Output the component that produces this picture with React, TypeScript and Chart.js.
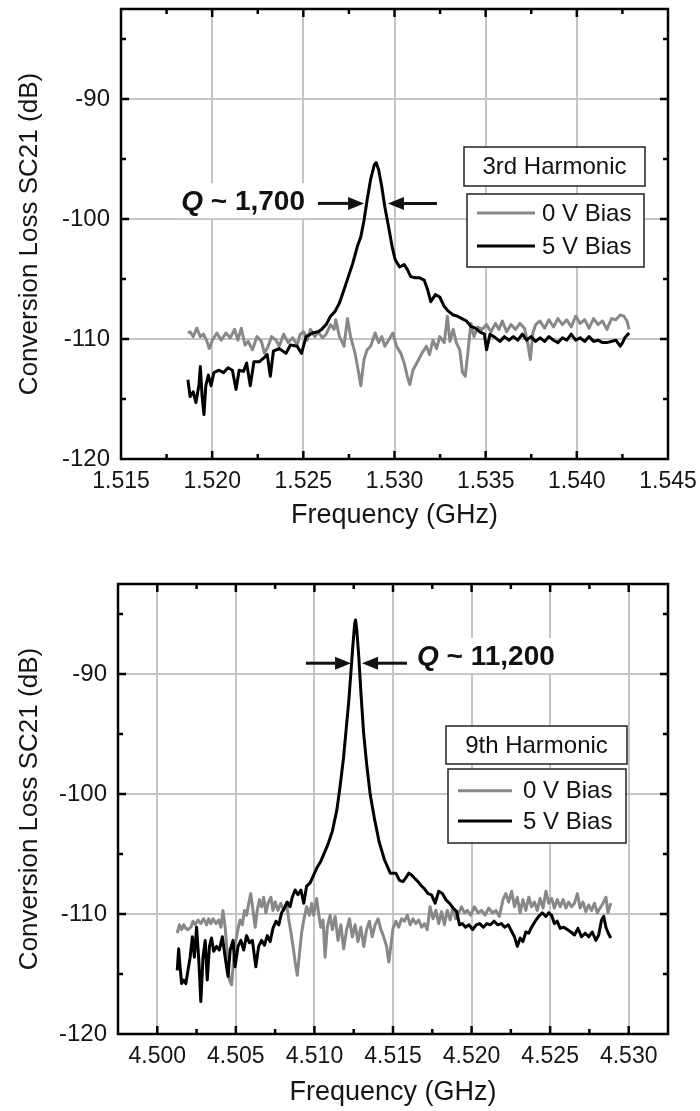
import React, { useEffect, useRef } from "react";
import { Chart, registerables } from "chart.js";

Chart.register(...registerables);

const FONT = "'Liberation Sans', Arial, Helvetica, sans-serif";
Chart.defaults.font.family = FONT;

// ---------------- Top panel: 3rd harmonic ----------------
const topFreq5V = [1.51867,1.51879,1.51896,1.51911,1.51928,1.51935,1.51945,1.51955,1.51965,1.51979,
1.51994,1.52009,1.52038,1.52062,1.52087,1.52111,1.52131,1.52148,1.52172,1.52189,
1.52209,1.52229,1.52258,1.52282,1.52302,1.52319,1.52336,1.52368,1.52405,1.52429,
1.52466,1.52490,1.52515,1.52551,1.52581,1.52600,1.52625,1.52649,1.52674,1.52698,
1.52723,1.52747,1.52771,1.52796,1.52815,1.52833,1.52850,1.52869,1.52889,1.52899,
1.52913,1.52930,1.52947,1.52967,1.52987,1.53004,1.53028,1.53053,1.53070,1.53089,
1.53114,1.53138,1.53163,1.53182,1.53199,1.53224,1.53248,1.53273,1.53297,1.53322,
1.53346,1.53370,1.53395,1.53419,1.53444,1.53468,1.53493,1.53505,1.53524,1.53554,
1.53578,1.53603,1.53627,1.53652,1.53676,1.53701,1.53725,1.53749,1.53774,1.53798,
1.53823,1.53847,1.53872,1.53896,1.53921,1.53945,1.53969,1.53994,1.54018,1.54043,
1.54067,1.54092,1.54116,1.54141,1.54165,1.54190,1.54214,1.54238,1.54251,1.54263,
1.54287];
const topLoss5V = [-113.4,-114.8,-114.4,-115.3,-113.8,-112.3,-114.8,-116.3,-113.9,-113.0,
-113.9,-112.8,-112.6,-112.8,-112.4,-112.6,-114.2,-112.6,-112.7,-112.0,
-113.9,-111.9,-111.9,-111.6,-111.3,-113.1,-111.0,-110.8,-111.2,-110.5,
-110.6,-111.2,-109.8,-109.5,-109.4,-109.2,-108.8,-108.1,-107.7,-107.0,
-105.9,-104.8,-103.7,-102.3,-101.5,-100.1,-98.4,-96.7,-95.5,-95.3,
-95.9,-97.3,-99.0,-100.6,-102.3,-103.4,-104.0,-103.8,-104.2,-104.8,
-104.9,-104.9,-105.1,-105.9,-106.9,-106.3,-106.5,-107.3,-107.7,-108.0,
-108.1,-108.3,-108.5,-108.95,-109.1,-109.4,-109.6,-110.9,-109.6,-109.9,
-110.2,-109.8,-110.1,-109.8,-110.1,-109.6,-110.1,-109.8,-110.2,-109.9,
-110.2,-109.8,-110.1,-110.3,-109.9,-110.1,-109.6,-110.1,-109.9,-110.2,
-109.8,-110.2,-110.1,-110.3,-110.3,-110.2,-110.1,-110.6,-110.3,-109.9,
-109.5];
const topFreq0V = [1.51867,1.51879,1.51896,1.51916,1.51935,1.51952,1.51969,1.51984,1.52001,1.52026,
1.52050,1.52075,1.52099,1.52123,1.52141,1.52160,1.52180,1.52197,1.52221,1.52246,
1.52270,1.52287,1.52307,1.52326,1.52351,1.52368,1.52392,1.52417,1.52441,1.52466,
1.52483,1.52502,1.52522,1.52539,1.52564,1.52581,1.52605,1.52625,1.52649,1.52669,
1.52678,1.52698,1.52723,1.52742,1.52759,1.52784,1.52803,1.52815,1.52833,1.52850,
1.52869,1.52894,1.52913,1.52930,1.52947,1.52967,1.52991,1.53011,1.53035,1.53053,
1.53070,1.53084,1.53101,1.53126,1.53150,1.53175,1.53192,1.53211,1.53231,1.53248,
1.53273,1.53290,1.53304,1.53322,1.53339,1.53358,1.53373,1.53388,1.53402,1.53419,
1.53436,1.53456,1.53480,1.53505,1.53529,1.53554,1.53573,1.53591,1.53615,1.53639,
1.53664,1.53688,1.53713,1.53730,1.53745,1.53759,1.53774,1.53798,1.53823,1.53847,
1.53872,1.53896,1.53921,1.53945,1.53969,1.53994,1.54018,1.54043,1.54067,1.54092,
1.54116,1.54141,1.54165,1.54190,1.54214,1.54238,1.54258,1.54275,1.54287];
const topLoss0V = [-109.5,-109.4,-109.8,-109.1,-109.8,-109.6,-110.1,-110.8,-110.1,-109.5,
-110.1,-109.5,-109.9,-109.2,-110.1,-109.1,-110.5,-110.2,-110.9,-109.8,
-110.2,-111.2,-110.6,-109.8,-110.1,-110.6,-109.6,-110.3,-109.9,-110.5,
-109.6,-109.4,-110.1,-109.2,-109.8,-109.4,-109.9,-109.6,-108.8,-109.2,
-108.4,-109.8,-110.6,-108.3,-109.8,-111.2,-112.8,-113.9,-111.7,-110.9,
-110.6,-109.5,-110.3,-109.8,-110.6,-110.1,-109.5,-110.6,-111.2,-112.0,
-113.1,-113.8,-112.6,-111.9,-111.2,-110.6,-111.3,-110.1,-110.8,-109.8,
-110.3,-108.1,-110.2,-109.2,-110.3,-110.9,-112.8,-113.1,-111.2,-108.7,
-109.8,-109.0,-109.2,-108.8,-109.4,-108.7,-109.2,-108.5,-109.4,-108.8,
-109.2,-108.7,-109.1,-110.3,-111.7,-109.5,-108.8,-108.5,-109.1,-108.4,
-109.0,-108.3,-108.8,-108.4,-109.0,-108.1,-108.7,-108.4,-109.1,-108.3,
-108.8,-108.5,-109.2,-108.3,-108.4,-108.0,-108.1,-108.5,-109.2];

// ---------------- Bottom panel: 9th harmonic ----------------
const botFreq5V = [4.50127,4.50136,4.50145,4.50155,4.50168,4.50182,4.50195,4.50209,4.50223,4.50236,
4.50250,4.50264,4.50277,4.50291,4.50305,4.50318,4.50332,4.50345,4.50359,4.50377,
4.50395,4.50414,4.50432,4.50450,4.50464,4.50482,4.50495,4.50514,4.50532,4.50550,
4.50568,4.50586,4.50605,4.50627,4.50645,4.50664,4.50682,4.50700,4.50718,4.50736,
4.50755,4.50773,4.50791,4.50809,4.50827,4.50845,4.50859,4.50877,4.50895,4.50914,
4.50932,4.50950,4.50973,4.50995,4.51018,4.51041,4.51086,4.51114,4.51143,4.51163,
4.51185,4.51202,4.51219,4.51233,4.51245,4.51256,4.51262,4.51270,4.51282,4.51296,
4.51313,4.51333,4.51355,4.51384,4.51412,4.51446,4.51483,4.51518,4.51541,4.51564,
4.51586,4.51600,4.51618,4.51636,4.51659,4.51677,4.51700,4.51723,4.51745,4.51768,
4.51791,4.51814,4.51836,4.51859,4.51882,4.51905,4.51923,4.51941,4.51961,4.51984,
4.52007,4.52030,4.52052,4.52075,4.52098,4.52120,4.52143,4.52166,4.52189,4.52211,
4.52234,4.52257,4.52273,4.52291,4.52309,4.52327,4.52345,4.52364,4.52382,4.52405,
4.52427,4.52450,4.52473,4.52491,4.52509,4.52527,4.52545,4.52564,4.52586,4.52609,
4.52632,4.52655,4.52677,4.52700,4.52723,4.52745,4.52768,4.52791,4.52809,4.52827,
4.52841,4.52855,4.52870,4.52886];
const botLoss5V = [-114.7,-112.9,-114.4,-115.8,-115.5,-115.8,-114.7,-113.6,-111.9,-113.6,
-111.1,-113.8,-117.3,-113.6,-112.2,-115.5,-112.7,-112.0,-113.1,-112.7,
-113.0,-111.9,-113.6,-115.2,-113.0,-112.2,-114.4,-112.7,-112.2,-113.0,
-111.8,-112.4,-112.2,-114.4,-112.7,-112.2,-112.6,-111.8,-112.3,-111.2,
-110.6,-110.9,-109.9,-109.5,-109.0,-109.4,-108.6,-108.0,-108.4,-108.0,
-109.1,-107.7,-107.4,-106.75,-106.1,-105.6,-104.2,-103.1,-101.3,-99.4,
-97.0,-94.6,-92.2,-89.7,-87.6,-85.8,-85.5,-86.4,-88.5,-91.6,
-94.9,-97.6,-100.05,-102.2,-104.0,-105.5,-106.6,-106.6,-107.2,-107.3,
-106.9,-106.6,-106.75,-107.0,-107.3,-107.6,-107.9,-108.3,-108.4,-109.1,
-108.1,-108.3,-108.8,-109.1,-109.5,-109.8,-110.9,-110.8,-111.1,-110.9,
-111.3,-110.9,-110.8,-111.1,-110.8,-110.9,-110.6,-110.9,-110.8,-111.1,
-110.9,-111.5,-111.9,-112.7,-112.0,-112.3,-111.5,-111.6,-111.1,-110.6,
-110.2,-109.9,-110.2,-109.9,-110.1,-110.8,-110.6,-111.2,-111.1,-111.3,
-111.5,-111.75,-111.2,-111.9,-111.6,-111.9,-111.5,-112.2,-111.75,-110.5,
-110.2,-111.1,-111.6,-112.0];
const botFreq0V = [4.50127,4.50141,4.50155,4.50168,4.50182,4.50195,4.50214,4.50227,4.50241,4.50259,
4.50277,4.50295,4.50314,4.50327,4.50341,4.50355,4.50373,4.50391,4.50405,4.50418,
4.50432,4.50445,4.50459,4.50473,4.50486,4.50500,4.50514,4.50527,4.50541,4.50555,
4.50568,4.50582,4.50595,4.50609,4.50623,4.50636,4.50650,4.50664,4.50677,4.50691,
4.50705,4.50723,4.50736,4.50750,4.50768,4.50786,4.50805,4.50823,4.50836,4.50850,
4.50864,4.50877,4.50891,4.50905,4.50918,4.50932,4.50950,4.50968,4.50982,4.50995,
4.51014,4.51027,4.51041,4.51055,4.51068,4.51082,4.51100,4.51114,4.51132,4.51150,
4.51168,4.51186,4.51205,4.51223,4.51241,4.51259,4.51277,4.51295,4.51314,4.51332,
4.51350,4.51368,4.51386,4.51405,4.51423,4.51441,4.51459,4.51473,4.51486,4.51500,
4.51518,4.51536,4.51555,4.51573,4.51591,4.51609,4.51627,4.51645,4.51664,4.51682,
4.51700,4.51718,4.51736,4.51755,4.51773,4.51791,4.51809,4.51827,4.51845,4.51864,
4.51882,4.51900,4.51918,4.51936,4.51955,4.51973,4.51995,4.52018,4.52041,4.52064,
4.52086,4.52109,4.52132,4.52155,4.52177,4.52200,4.52218,4.52236,4.52255,4.52273,
4.52291,4.52309,4.52327,4.52345,4.52364,4.52382,4.52400,4.52418,4.52436,4.52455,
4.52473,4.52491,4.52509,4.52527,4.52545,4.52564,4.52582,4.52600,4.52618,4.52636,
4.52655,4.52673,4.52691,4.52709,4.52727,4.52745,4.52764,4.52782,4.52800,4.52818,
4.52836,4.52855,4.52868,4.52886];
const botLoss0V = [-111.6,-110.9,-111.3,-110.9,-111.2,-111.3,-111.1,-110.6,-110.9,-110.5,
-110.8,-110.4,-110.9,-110.4,-110.8,-110.4,-110.8,-110.5,-111.1,-109.7,
-111.1,-113.3,-115.5,-115.9,-113.8,-112.2,-111.2,-110.5,-110.9,-109.7,
-110.1,-109.1,-108.3,-109.7,-111.1,-109.7,-108.8,-109.4,-108.6,-109.9,
-109.1,-108.6,-109.7,-109.0,-109.7,-109.1,-109.7,-109.1,-110.4,-111.5,
-112.7,-114.0,-115.1,-113.3,-111.6,-110.5,-109.4,-110.1,-109.1,-110.1,
-108.7,-110.0,-111.1,-110.5,-113.6,-111.1,-110.1,-111.3,-110.2,-112.2,
-110.9,-112.9,-111.3,-110.4,-111.9,-110.9,-112.3,-111.1,-112.7,-111.3,
-110.6,-111.9,-110.9,-110.4,-111.3,-111.9,-112.7,-114.0,-112.7,-111.2,
-110.6,-111.1,-110.4,-110.6,-110.1,-110.9,-110.4,-110.8,-110.5,-111.1,
-110.8,-111.3,-109.4,-110.4,-109.7,-110.8,-109.8,-110.9,-109.7,-110.5,
-109.5,-110.4,-109.9,-109.4,-109.9,-109.7,-110.1,-109.4,-109.9,-109.7,
-110.1,-109.5,-109.9,-109.7,-110.2,-108.8,-108.3,-109.0,-108.1,-109.4,
-108.6,-109.9,-108.8,-109.7,-108.6,-109.4,-109.0,-109.7,-108.7,-109.5,
-108.1,-109.1,-108.7,-109.5,-108.8,-109.4,-108.8,-109.5,-109.0,-109.4,
-109.1,-108.3,-109.5,-109.0,-109.8,-109.25,-109.7,-109.1,-109.9,-109.5,
-109.1,-108.6,-109.9,-109.1];

// ---------------- Axes ----------------
const topXRange = [1.515, 1.545];
const topXMajor = [1.515, 1.52, 1.525, 1.53, 1.535, 1.54, 1.545];
const topXMinor = [1.5175, 1.5225, 1.5275, 1.5325, 1.5375, 1.5425];
const botXRange = [4.4975, 4.5325];
const botXMajor = [4.5, 4.505, 4.51, 4.515, 4.52, 4.525, 4.53];
const botXMinor = [4.4975, 4.5025, 4.5075, 4.5125, 4.5175, 4.5225, 4.5275, 4.5325];
const yRange = [-120, -82.5];
const yMajor = [-120, -110, -100, -90];
const yMinor = [-115, -105, -95, -85];

const seriesNames = ["0 V Bias", "5 V Bias"];
const xTitle = "Frequency (GHz)";
const yTitle = "Conversion Loss SC21 (dB)";

// Q annotations (data coordinates)
const topQ = { value: "1,700", textX: 1.52509, textY: -98.6, align: "right", arrowY: -98.7, tails: [1.5258, 1.53233], tips: [1.52833, 1.52964] };
const botQ = { value: "11,200", textX: 4.51653, textY: -88.6, align: "left", arrowY: -89.1, tails: [4.50946, 4.51589], tips: [4.51233, 4.51303] };

const COLOR_0V = "#888888";
const COLOR_5V = "#000000";

const panels = [
  {
    key: "top", height: 540,
    padding: { top: 9, right: 32, bottom: 0, left: 0 },
    yAxisWidth: 121, xAxisHeight: 81, xTitlePadBottom: 8,
    xRange: topXRange, xMajor: topXMajor, xMinor: topXMinor,
    f5: topFreq5V, l5: topLoss5V, f0: topFreq0V, l0: topLoss0V,
    legendTitle: "3rd Harmonic",
    legend: { titleBox: [464, 147, 645, 186], box: [467, 194, 644, 267], rows: [213, 246], line: [477, 535], textX: 542 },
    q: topQ,
  },
  {
    key: "bot", height: 571,
    padding: { top: 44, right: 32, bottom: 0, left: 0 },
    yAxisWidth: 118, xAxisHeight: 77, xTitlePadBottom: 2,
    xRange: botXRange, xMajor: botXMajor, xMinor: botXMinor,
    f5: botFreq5V, l5: botLoss5V, f0: botFreq0V, l0: botLoss0V,
    legendTitle: "9th Harmonic",
    legend: { titleBox: [446, 186, 627, 224], box: [448, 229, 626, 303], rows: [250.7, 281], line: [458, 512], textX: 523 },
    q: botQ,
  },
];

const zip = (xs: number[], ys: number[]) => xs.map((x, i) => ({ x, y: ys[i] }));
const isIn = (v: number, list: number[]) => list.some((m) => Math.abs(m - v) < 1e-7);

function drawArrow(ctx: CanvasRenderingContext2D, fromX: number, toX: number, y: number) {
  const dir = Math.sign(toX - fromX);
  const hl = 16, hw = 6.5;
  ctx.beginPath();
  ctx.moveTo(fromX, y);
  ctx.lineTo(toX - dir * hl, y);
  ctx.stroke();
  ctx.beginPath();
  ctx.moveTo(toX, y);
  ctx.lineTo(toX - dir * hl, y - hw);
  ctx.lineTo(toX - dir * hl, y + hw);
  ctx.closePath();
  ctx.fill();
}

function qLayout(ctx: CanvasRenderingContext2D, chart: any, q: any) {
  const xs = chart.scales.x, ys = chart.scales.y;
  ctx.font = `italic bold 28px ${FONT}`;
  const wQ = ctx.measureText("Q").width;
  ctx.font = `bold 28px ${FONT}`;
  const rest = " ~ " + q.value;
  const wR = ctx.measureText(rest).width;
  const total = wQ + wR;
  const ax = xs.getPixelForValue(q.textX);
  const x0 = q.align === "right" ? ax - total : ax;
  const y = ys.getPixelForValue(q.textY);
  return { x0, y, wQ, rest, total };
}

function decorPlugin(p: any) {
  return {
    id: "decor",
    beforeDatasetsDraw(chart: any) {
      const ctx = chart.ctx as CanvasRenderingContext2D;
      ctx.save();
      const L = qLayout(ctx, chart, p.q);
      ctx.fillStyle = "#ffffff";
      ctx.fillRect(L.x0 - 5, L.y - 19, L.total + 10, 35);
      ctx.restore();
    },
    afterDatasetsDraw(chart: any) {
      const ctx = chart.ctx as CanvasRenderingContext2D;
      const xs = chart.scales.x, ys = chart.scales.y;
      ctx.save();
      const q = p.q;
      const L = qLayout(ctx, chart, q);
      ctx.fillStyle = "#111";
      ctx.textBaseline = "middle";
      ctx.textAlign = "left";
      ctx.font = `italic bold 28px ${FONT}`;
      ctx.fillText("Q", L.x0, L.y);
      ctx.font = `bold 28px ${FONT}`;
      ctx.fillText(L.rest, L.x0 + L.wQ, L.y);
      ctx.strokeStyle = "#111";
      ctx.lineWidth = 3;
      const ay = ys.getPixelForValue(q.arrowY);
      drawArrow(ctx, xs.getPixelForValue(q.tails[0]), xs.getPixelForValue(q.tips[0]), ay);
      drawArrow(ctx, xs.getPixelForValue(q.tails[1]), xs.getPixelForValue(q.tips[1]), ay);

      const lg = p.legend;
      ctx.lineWidth = 1.5;
      ctx.strokeStyle = "#222";
      const tb = lg.titleBox;
      ctx.fillStyle = "#fff";
      ctx.fillRect(tb[0], tb[1], tb[2] - tb[0], tb[3] - tb[1]);
      ctx.strokeRect(tb[0], tb[1], tb[2] - tb[0], tb[3] - tb[1]);
      const bb = lg.box;
      ctx.fillRect(bb[0], bb[1], bb[2] - bb[0], bb[3] - bb[1]);
      ctx.strokeRect(bb[0], bb[1], bb[2] - bb[0], bb[3] - bb[1]);
      ctx.fillStyle = "#111";
      ctx.font = `24px ${FONT}`;
      ctx.textAlign = "center";
      ctx.fillText(p.legendTitle, (tb[0] + tb[2]) / 2, (tb[1] + tb[3]) / 2 + 1);
      ctx.textAlign = "left";
      const colors = [COLOR_0V, COLOR_5V];
      seriesNames.forEach((name, i) => {
        const y = lg.rows[i];
        ctx.strokeStyle = colors[i];
        ctx.lineWidth = 3;
        ctx.beginPath();
        ctx.moveTo(lg.line[0], y);
        ctx.lineTo(lg.line[1], y);
        ctx.stroke();
        ctx.fillStyle = "#111";
        ctx.fillText(name, lg.textX, y + 1);
      });
      ctx.restore();
    },
    afterDraw(chart: any) {
      const ctx = chart.ctx as CanvasRenderingContext2D;
      const { left, right, top, bottom } = chart.chartArea;
      const xs = chart.scales.x, ys = chart.scales.y;
      ctx.save();
      ctx.strokeStyle = "#000";
      ctx.lineWidth = 2.5;
      const majorLen = 8, minorLen = 5;
      [...p.xMajor, ...p.xMinor].forEach((v: number) => {
        const px = xs.getPixelForValue(v);
        if (px < left + 2 || px > right - 2) return;
        const len = isIn(v, p.xMajor) ? majorLen : minorLen;
        ctx.beginPath();
        ctx.moveTo(px, bottom);
        ctx.lineTo(px, bottom - len);
        ctx.moveTo(px, top);
        ctx.lineTo(px, top + len);
        ctx.stroke();
      });
      [...yMajor, ...yMinor].forEach((v) => {
        const py = ys.getPixelForValue(v);
        if (py < top + 2 || py > bottom - 2) return;
        const len = isIn(v, yMajor) ? majorLen : minorLen;
        ctx.beginPath();
        ctx.moveTo(left, py);
        ctx.lineTo(left + len, py);
        ctx.moveTo(right, py);
        ctx.lineTo(right - len, py);
        ctx.stroke();
      });
      ctx.strokeRect(left, top, right - left, bottom - top);
      ctx.restore();
    },
  };
}

const clearPad = (s: any) => {
  s.paddingTop = 0;
  s.paddingBottom = 0;
  s.paddingLeft = 0;
  s.paddingRight = 0;
};

function buildChart(canvas: HTMLCanvasElement, p: any) {
  const gridColor = (majors: number[]) => (c: any) =>
    c.tick && isIn(c.tick.value, majors) ? "#c4c4c4" : "rgba(0,0,0,0)";
  return new Chart(canvas, {
    type: "line",
    data: {
      datasets: [
        { label: seriesNames[1], data: zip(p.f5, p.l5), borderColor: COLOR_5V, borderWidth: 3, pointRadius: 0, tension: 0, fill: false, order: 1, borderJoinStyle: "round" },
        { label: seriesNames[0], data: zip(p.f0, p.l0), borderColor: COLOR_0V, borderWidth: 3, pointRadius: 0, tension: 0, fill: false, order: 2, borderJoinStyle: "round" },
      ],
    },
    options: {
      animation: false,
      responsive: false,
      maintainAspectRatio: false,
      layout: { padding: p.padding },
      plugins: { legend: { display: false }, tooltip: { enabled: false } },
      scales: {
        x: {
          type: "linear",
          min: p.xRange[0],
          max: p.xRange[1],
          afterBuildTicks: (s: any) => {
            s.ticks = [...p.xMajor, ...p.xMinor].sort((a, b) => a - b).map((v) => ({ value: v }));
          },
          afterFit: (s: any) => { s.height = p.xAxisHeight; clearPad(s); },
          grid: { color: gridColor(p.xMajor), lineWidth: 2, drawTicks: false },
          border: { display: false },
          ticks: {
            autoSkip: false, maxRotation: 0, minRotation: 0, padding: 9, color: "#151515",
            font: { size: 23, family: FONT },
            callback: (v: any) => (isIn(Number(v), p.xMajor) ? Number(v).toFixed(3) : ""),
          },
          title: { display: true, text: xTitle, color: "#151515", font: { size: 27, family: FONT }, padding: { top: 0, bottom: p.xTitlePadBottom } },
        },
        y: {
          type: "linear",
          min: yRange[0],
          max: yRange[1],
          afterBuildTicks: (s: any) => {
            s.ticks = [...yMajor, ...yMinor].sort((a, b) => a - b).map((v) => ({ value: v }));
          },
          afterFit: (s: any) => { s.width = p.yAxisWidth; clearPad(s); },
          grid: { color: gridColor(yMajor), lineWidth: 2, drawTicks: false },
          border: { display: false },
          ticks: {
            autoSkip: false, padding: 11, color: "#151515",
            font: { size: 24, family: FONT },
            callback: (v: any) => (isIn(Number(v), yMajor) ? String(v) : ""),
          },
          title: { display: true, text: yTitle, color: "#151515", font: { size: 26, family: FONT }, padding: { top: 14, bottom: 0 } },
        },
      },
    } as any,
    plugins: [decorPlugin(p)],
  });
}

function Panel({ p }: { p: any }) {
  const ref = useRef<HTMLCanvasElement>(null);
  useEffect(() => {
    const chart = buildChart(ref.current as HTMLCanvasElement, p);
    return () => chart.destroy();
  }, [p]);
  return <canvas ref={ref} width={700} height={p.height} style={{ display: "block", width: 700, height: p.height }} />;
}

export default function App() {
  return (
    <div style={{ position: "absolute", left: 0, top: 0, width: 700, background: "#fff" }}>
      {panels.map((p) => (
        <Panel key={p.key} p={p} />
      ))}
    </div>
  );
}
